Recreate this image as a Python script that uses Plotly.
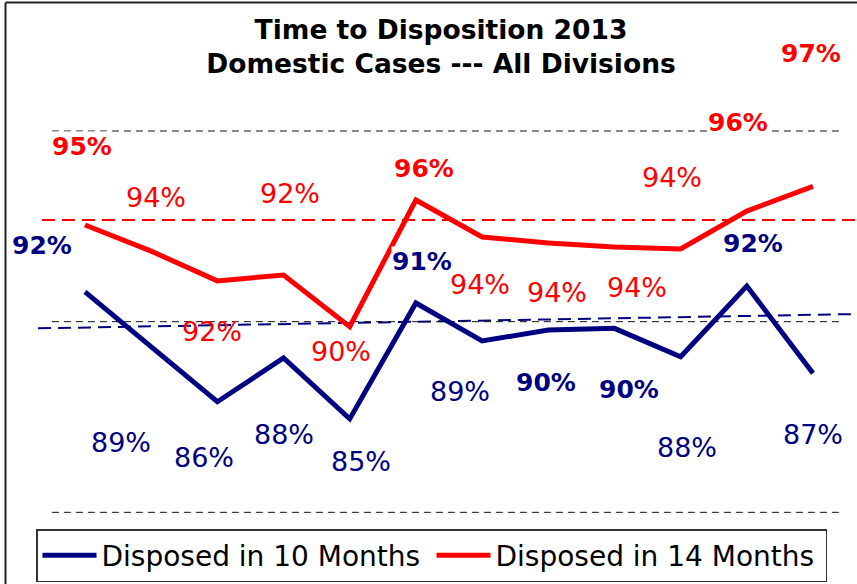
import plotly.graph_objects as go

# ---------------- data ----------------
months = ["Jan", "Feb", "Mar", "Apr", "May", "Jun", "Jul", "Aug", "Sep", "Oct", "Nov", "Dec"]
disposed_10 = [91.56, 88.7, 85.8, 88.1, 84.9, 90.98, 88.99, 89.56, 89.65, 88.16, 91.87, 87.3]
disposed_14 = [95.07, 93.7, 92.14, 92.45, 89.74, 96.38, 94.44, 94.13, 93.92, 93.81, 95.8, 97.1]
labels_10 = ["92%", "89%", "86%", "88%", "85%", "91%", "89%", "90%", "90%", "88%", "92%", "87%"]
labels_14 = ["95%", "94%", "92%", "92%", "90%", "96%", "94%", "94%", "94%", "94%", "96%", "97%"]
gridline_values = [80, 90, 100]
target_14 = 95.33            # red reference line
trend_10 = [89.65, 90.4]     # blue reference (trend) line, start / end

# ---------------- styles / label placement ----------------
BLUE = "#000080"
RED = "#FF0000"
FONT = "DejaVu Sans"
bold_10 = [0, 5, 7, 8, 10]
bold_14 = [0, 5, 10, 11]
off_10 = [(-43, -46), (-30, 96), (-13, 56), (0, 77), (11, 43), (6, -41),
          (-22, 51), (-2, 52), (15, 61), (6, 91), (6, -43), (0, 61)]
off_14 = [(-3, -79), (5, -54), (-5, 51), (6, -81), (-9, 25), (8, -32),
          (-2, 47), (9, 50), (23, 41), (-9, -72), (-9, -89), (-2, -133)]
nobg_14 = [2]

W, H = 857, 584
ML, MR, MT, MB = 36, 0, 111, 53
PW, PH = W - ML - MR, H - MT - MB


def px(x):
    return (x - ML) / PW


def py(y):
    return (H - MB - y) / PH


fig = go.Figure()
fig.add_trace(go.Scatter(x=months, y=disposed_10, mode="lines", name="Disposed in 10 Months",
                         line=dict(color=BLUE, width=5)))
fig.add_trace(go.Scatter(x=months, y=disposed_14, mode="lines", name="Disposed in 14 Months",
                         line=dict(color=RED, width=5)))

shapes = []
for g in gridline_values:
    shapes.append(dict(type="line", xref="x", yref="y", x0=-0.5, x1=11.4, y0=g, y1=g,
                       line=dict(color="#111", width=1, dash="7px,5px"), layer="below"))
shapes.append(dict(type="line", xref="paper", yref="y", x0=px(42), x1=1, y0=target_14, y1=target_14,
                   line=dict(color=RED, width=2, dash="13px,7px"), layer="below"))
shapes.append(dict(type="line", xref="paper", yref="y", x0=px(38), x1=1, y0=trend_10[0], y1=trend_10[1],
                   line=dict(color=BLUE, width=2, dash="13px,7px"), layer="below"))
# chart border (left & top)
shapes.append(dict(type="line", xref="paper", yref="paper", x0=px(5.5), x1=px(5.5), y0=py(2.5), y1=py(590),
                   line=dict(color="#222", width=2)))
shapes.append(dict(type="line", xref="paper", yref="paper", x0=px(5.5), x1=px(860), y0=py(2.5), y1=py(2.5),
                   line=dict(color="#222", width=2)))

annotations = []
for vals, labs, offs, bolds, color, nobg in [
        (disposed_10, labels_10, off_10, bold_10, BLUE, []),
        (disposed_14, labels_14, off_14, bold_14, RED, nobg_14)]:
    for i, (m, v, t) in enumerate(zip(months, vals, labs)):
        b = i in bolds
        annotations.append(dict(
            x=m, y=v, text=t, showarrow=False, xref="x", yref="y",
            xshift=offs[i][0], yshift=-offs[i][1],
            bgcolor=None if i in nobg else "white", borderpad=0,
            font=dict(family=FONT, size=25 if b else 27, color=color, weight="bold" if b else "normal")))

fig.update_layout(
    width=W, height=H,
    margin=dict(l=ML, r=MR, t=MT, b=MB),
    paper_bgcolor="white", plot_bgcolor="white",
    title=dict(text="Time to Disposition 2013<br>Domestic Cases --- All Divisions",
               x=441 / W, xref="container", xanchor="center",
               y=1 - 39 / H, yref="container", yanchor="middle",
               font=dict(family=FONT, size=26.5, color="black", weight="bold")),
    xaxis=dict(visible=False, range=[-0.7402, 11.665], type="category"),
    yaxis=dict(visible=False, range=[79.02, 101.05]),
    showlegend=True,
    legend=dict(orientation="h", x=px(36), xanchor="left", y=py(529), yanchor="top",
                bgcolor="white", bordercolor="#333", borderwidth=1.5,
                font=dict(family=FONT, size=28, color="black"),
                itemwidth=54, entrywidth=325),
    shapes=shapes,
    annotations=annotations,
)

fig.write_html("out.html", config={"displayModeBar": False},
               post_script="document.body.style.margin='0';document.body.style.overflow='hidden';")
